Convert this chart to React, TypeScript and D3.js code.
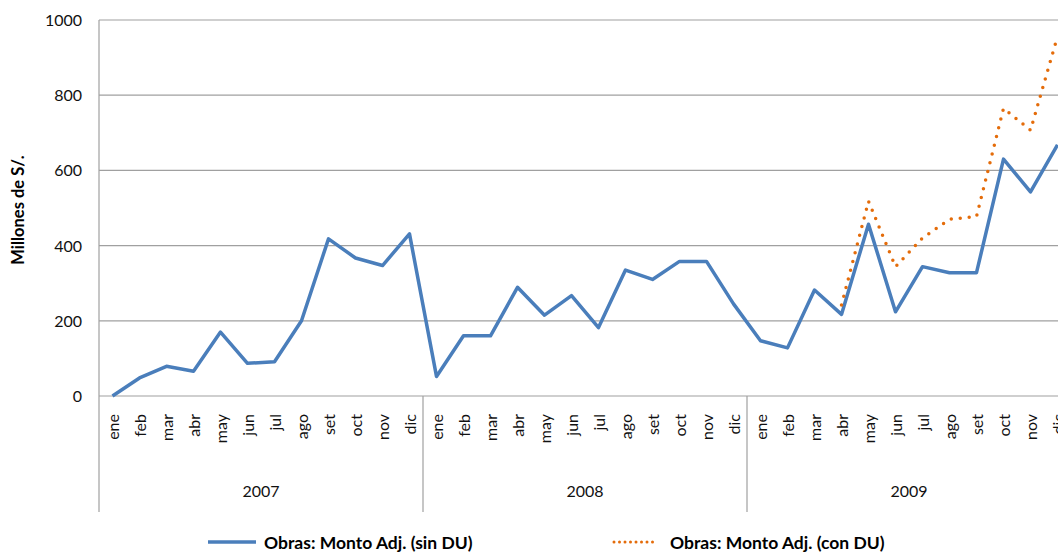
import React, { useRef, useEffect } from 'react';
import * as d3 from 'd3';

// month labels, one list per year
const months = ['ene', 'feb', 'mar', 'abr', 'may', 'jun', 'jul', 'ago', 'set', 'oct', 'nov', 'dic'];
const years = ['2007', '2008', '2009'];
const yTicks = [0, 200, 400, 600, 800, 1000];

// Obras: Monto Adj. (sin DU), millones de S/.
const sinDU = [
  0, 48, 79, 66, 170, 87, 91, 200, 418, 367, 347, 431,
  52, 160, 160, 289, 215, 267, 182, 335, 310, 358, 358, 245,
  147, 128, 282, 217, 457, 224, 344, 328, 328, 630, 543, 668,
];

// Obras: Monto Adj. (con DU), only from abr 2009
const conDU = [
  null, null, null, null, null, null, null, null, null, null, null, null,
  null, null, null, null, null, null, null, null, null, null, null, null,
  null, null, null, 242, 518, 344, 420, 470, 477, 765, 707, 956,
];

const BLUE = '#4A7EBB';
const ORANGE = '#E46C0A';
const GRID = '#A0A0A0';
const FONT = 'Lato, "Open Sans", sans-serif';

function LineChart() {
  const ref = useRef<SVGSVGElement>(null);

  useEffect(() => {
    const width = 1058;
    const height = 552;
    const marginLeft = 99;
    const plotRight = 1071; // the plot goes past the picture's edge
    const marginTop = 20;
    const axisY = 396;

    const keys = d3.range(years.length * months.length);
    const x = d3.scaleBand<number>().domain(keys).range([marginLeft, plotRight]);
    const y = d3.scaleLinear().domain([0, 1000]).range([axisY, marginTop]);

    const svg = d3.select(ref.current)
      .attr('width', width)
      .attr('height', height)
      .attr('viewBox', [0, 0, width, height].join(' '))
      .style('font-family', FONT);
    svg.selectAll('*').remove();

    // horizontal grid
    svg.append('g')
      .selectAll('line')
      .data(yTicks)
      .join('line')
      .attr('x1', marginLeft)
      .attr('x2', plotRight)
      .attr('y1', d => y(d))
      .attr('y2', d => y(d))
      .attr('stroke', GRID)
      .attr('stroke-width', 1.2);

    // y axis line
    svg.append('line')
      .attr('x1', marginLeft).attr('x2', marginLeft)
      .attr('y1', marginTop).attr('y2', axisY)
      .attr('stroke', GRID).attr('stroke-width', 1.2);

    // y tick labels
    svg.append('g')
      .selectAll('text')
      .data(yTicks)
      .join('text')
      .attr('x', 82)
      .attr('y', d => y(d) + 6)
      .attr('text-anchor', 'end')
      .attr('font-size', 16)
      .attr('fill', '#111')
      .text(d => d);

    // y axis title
    svg.append('text')
      .attr('transform', `translate(24,210) rotate(-90)`)
      .attr('text-anchor', 'middle')
      .attr('font-size', 16.5)
      .attr('font-weight', 'bold')
      .text('Millones de S/.');

    // year separators
    const yearEdges = d3.range(years.length + 1).map(i =>
      i < years.length ? x(i * months.length)! : plotRight);
    svg.append('g')
      .selectAll('line')
      .data(yearEdges)
      .join('line')
      .attr('x1', d => d).attr('x2', d => d)
      .attr('y1', axisY).attr('y2', 512)
      .attr('stroke', GRID).attr('stroke-width', 1.2);

    // month labels
    svg.append('g')
      .selectAll('text')
      .data(keys)
      .join('text')
      .attr('transform', d => `translate(${x(d)! + x.bandwidth() / 2 + 6},414) rotate(-90)`)
      .attr('text-anchor', 'end')
      .attr('font-size', 16)
      .attr('fill', '#111')
      .text(d => months[d % months.length]);

    // year labels
    svg.append('g')
      .selectAll('text')
      .data(years)
      .join('text')
      .attr('x', (d, i) => (yearEdges[i] + yearEdges[i + 1]) / 2)
      .attr('y', 497)
      .attr('text-anchor', 'middle')
      .attr('font-size', 16)
      .attr('fill', '#111')
      .text(d => d);

    const cx = (i: number) => x(i)! + x.bandwidth() / 2;

    const line = d3.line<number | null>()
      .defined(d => d != null)
      .x((d, i) => cx(i))
      .y(d => y(d as number));

    svg.append('path')
      .datum(sinDU)
      .attr('fill', 'none')
      .attr('stroke', BLUE)
      .attr('stroke-width', 3.5)
      .attr('stroke-linejoin', 'round')
      .attr('d', line as any);

    svg.append('path')
      .datum(conDU)
      .attr('fill', 'none')
      .attr('stroke', ORANGE)
      .attr('stroke-width', 3.5)
      .attr('stroke-linecap', 'round')
      .attr('stroke-dasharray', '0 9')
      .attr('d', line as any);

    // legend
    const legend = svg.append('g').attr('font-size', 17.5).attr('font-weight', 'bold');
    legend.append('line')
      .attr('x1', 208).attr('x2', 256).attr('y1', 542).attr('y2', 542)
      .attr('stroke', BLUE).attr('stroke-width', 3.5);
    legend.append('text').attr('x', 264).attr('y', 549).text('Obras: Monto Adj. (sin DU)');
    legend.append('line')
      .attr('x1', 614).attr('x2', 654).attr('y1', 542).attr('y2', 542)
      .attr('stroke', ORANGE).attr('stroke-width', 3)
      .attr('stroke-linecap', 'round').attr('stroke-dasharray', '0 5.5');
    legend.append('text').attr('x', 670).attr('y', 549).text('Obras: Monto Adj. (con DU)');
  }, []);

  return <svg ref={ref} style={{ position: 'absolute', left: 0, top: 0, background: '#fff' }}></svg>;
}

export default function App() {
  return (
    <div className="chart">
      <LineChart />
    </div>
  );
}
